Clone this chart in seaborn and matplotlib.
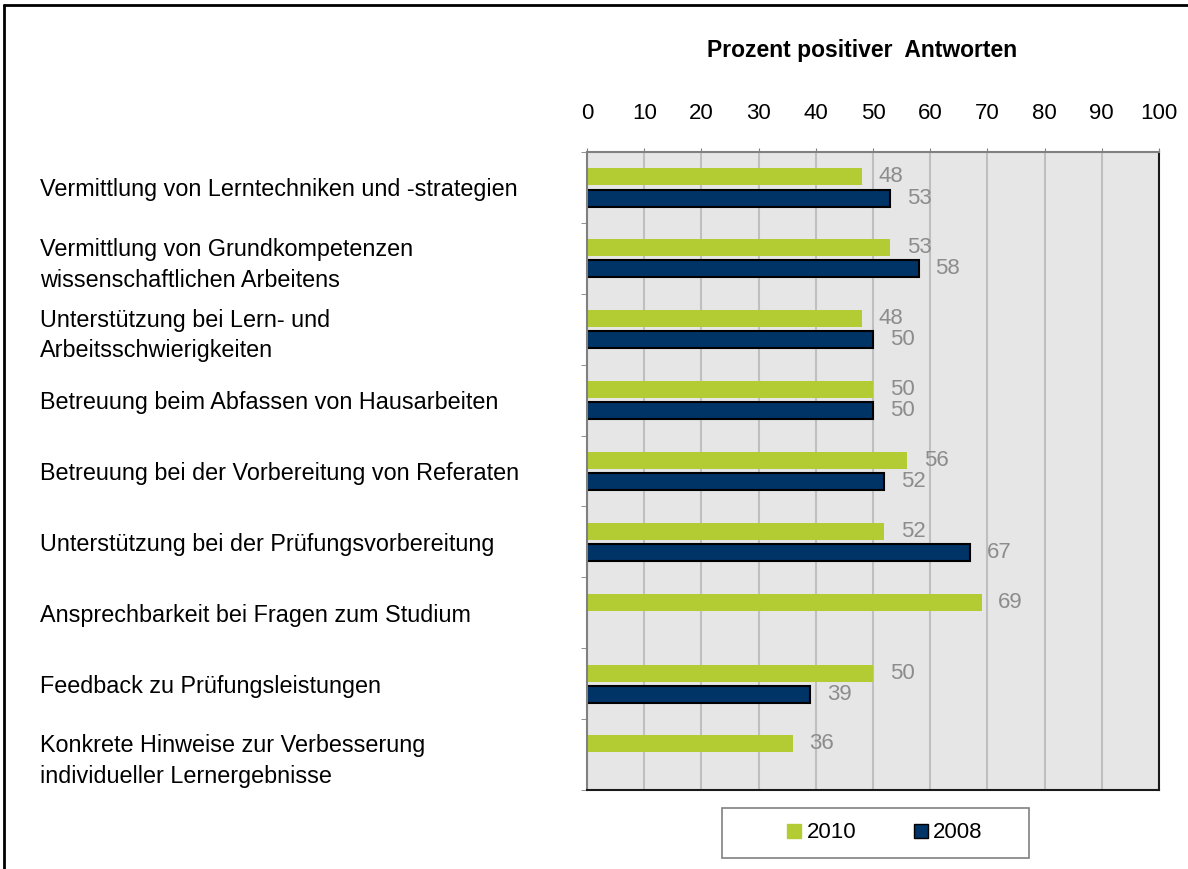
import pandas as pd
import numpy as np
import matplotlib
matplotlib.use("Agg")
import matplotlib.pyplot as plt
from matplotlib.lines import Line2D
from matplotlib.patches import Rectangle
import seaborn as sns

# Daten aus der Grafik
kategorien = [
    "Vermittlung von Lerntechniken und -strategien",
    "Vermittlung von Grundkompetenzen\nwissenschaftlichen Arbeitens",
    "Unterstützung bei Lern- und\nArbeitsschwierigkeiten",
    "Betreuung beim Abfassen von Hausarbeiten",
    "Betreuung bei der Vorbereitung von Referaten",
    "Unterstützung bei der Prüfungsvorbereitung",
    "Ansprechbarkeit bei Fragen zum Studium",
    "Feedback zu Prüfungsleistungen",
    "Konkrete Hinweise zur Verbesserung\nindividueller Lernergebnisse",
]
werte_2010 = [48, 53, 48, 50, 56, 52, 69, 50, 36]
werte_2008 = [53, 58, 50, 50, 52, 67, np.nan, 39, np.nan]
jahre = ["2010", "2008"]
farben = ["#b3cc33", "#003366"]
x_ticks = list(range(0, 101, 10))

df = pd.DataFrame({
    "Kategorie": kategorien * 2,
    "Jahr": ["2010"] * len(kategorien) + ["2008"] * len(kategorien),
    "Wert": werte_2010 + werte_2008,
})

sns.set_style("white")
plt.rcParams["font.family"] = ["Liberation Sans", "DejaVu Sans"]
plt.rcParams["text.color"] = "black"
plt.rcParams["xtick.color"] = "black"
plt.rcParams["ytick.color"] = "black"

W, H = 1188, 869
fig = plt.figure(figsize=(W / 100, H / 100), dpi=100)
ax = fig.add_axes([587 / W, 1 - 790 / H, 572 / W, 638 / H])
ax.set_facecolor("#e6e6e6")

sns.barplot(data=df, x="Wert", y="Kategorie", hue="Jahr", hue_order=jahre,
            palette=farben, orient="h", width=0.6, gap=0.2, ax=ax,
            legend=False, saturation=1, errorbar=None)

# dunkle Balken mit schwarzem Rand
for bar in ax.containers[1]:
    bar.set_edgecolor("black")
    bar.set_linewidth(1.5)
for bar in ax.containers[0]:
    bar.set_linewidth(0)

for cont in ax.containers:
    ax.bar_label(cont, fmt="%.0f", padding=12, color="#8c8c8c", fontsize=16)

ax.set_xlim(0, 100)
ax.set_ylim(len(kategorien) - 0.5, -0.5)
ax.xaxis.tick_top()
ax.set_xticks(x_ticks)
ax.tick_params(axis="x", top=True, length=3, color="#808080", pad=17,
               labelsize=16, labelcolor="black")
ax.set_xlabel("")
ax.set_ylabel("")

ax.set_yticks(range(len(kategorien)))
ax.set_yticklabels(kategorien, ha="left", fontsize=16.8, linespacing=1.43,
                   color="black")
ax.tick_params(axis="y", length=0, pad=394, labelcolor="black")
ax.set_yticks(np.arange(-0.5, len(kategorien), 1), minor=True)
ax.tick_params(axis="y", which="minor", length=4, color="#808080", left=True)

ax.grid(axis="x", color="#bfbfbf", linewidth=1.5)
ax.grid(axis="y", visible=False)
ax.set_axisbelow(True)

ax.spines["top"].set_color("#808080")
ax.spines["left"].set_color("#808080")
ax.spines["right"].set_color("#1a1a1a")
ax.spines["bottom"].set_color("#1a1a1a")
for s in ax.spines.values():
    s.set_linewidth(1.5)
    s.set_visible(True)

fig.text(862 / W, 1 - 51 / H, "Prozent positiver  Antworten",
         ha="center", va="center", fontsize=16.5, fontweight="bold", color="black")

# Legende
handles = [
    Line2D([], [], marker="s", linestyle="", markersize=10,
           markerfacecolor=farben[0], markeredgecolor=farben[0]),
    Line2D([], [], marker="s", linestyle="", markersize=10,
           markerfacecolor=farben[1], markeredgecolor="black"),
]
fig.legend(handles, jahre, loc="center", bbox_to_anchor=(885 / W, 1 - 833 / H),
           ncol=2, frameon=False, fontsize=16, handlelength=0.6,
           handletextpad=0.25, columnspacing=2.6, borderpad=0,
           labelcolor="black")
fig.add_artist(Rectangle((722 / W, 1 - 858 / H), 307 / W, 50 / H,
                         transform=fig.transFigure, facecolor="none",
                         edgecolor="#808080", linewidth=1.2))

# Rahmen um die Grafik
fig.add_artist(Line2D([4 / W, 4 / W], [0, 1 - 5 / H], color="black",
                      linewidth=2, transform=fig.transFigure))
fig.add_artist(Line2D([4 / W, 1], [1 - 5 / H, 1 - 5 / H], color="black",
                      linewidth=2, transform=fig.transFigure))

fig.savefig("out.png", dpi=100)
